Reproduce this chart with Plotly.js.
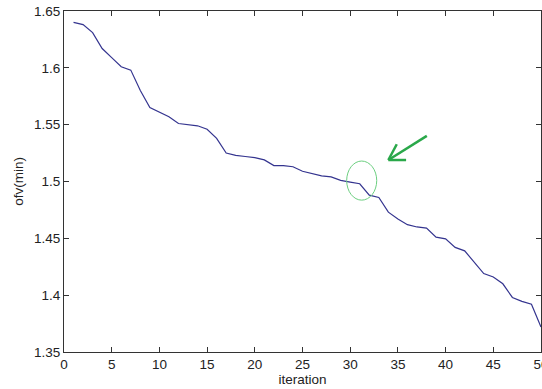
<!DOCTYPE html>
<html>
<head>
<meta charset="utf-8">
<script src="https://cdn.plot.ly/plotly-3.0.1.min.js"></script>
<style>
html,body{margin:0;padding:0;background:#fff;}
#chart{width:542px;height:389px;}
</style>
</head>
<body>
<div id="chart"></div>
<script>
const iterations = [1,2,3,4,5,6,7,8,9,10,11,12,13,14,15,16,17,18,19,20,21,22,23,24,25,26,27,28,29,30,31,32,33,34,35,36,37,38,39,40,41,42,43,44,45,46,47,48,49,50];
const ofvMin = [1.640,1.638,1.631,1.617,1.609,1.601,1.598,1.580,1.565,1.561,
                1.557,1.551,1.550,1.549,1.546,1.538,1.525,1.523,1.522,1.521,
                1.519,1.514,1.514,1.513,1.509,1.507,1.505,1.504,1.501,1.4995,
                1.498,1.488,1.486,1.473,1.467,1.462,1.460,1.459,1.451,1.4495,
                1.442,1.439,1.429,1.419,1.416,1.410,1.398,1.3945,1.392,1.372];
const xTicks = [0,5,10,15,20,25,30,35,40,45,50];
const yTicks = [1.35,1.4,1.45,1.5,1.55,1.6,1.65];
const yTickText = ['1.35','1.4','1.45','1.5','1.55','1.6','1.65'];

// highlight ellipse (data coords) and arrow
const ellipseBox = {x0: 29.63, x1: 32.78, y0: 1.4836, y1: 1.518};
const arrowTail = [38.03, 1.5401];
const arrowTip = [34.0, 1.5189];
const arrowArm1 = [34.88, 1.5328];
const arrowArm2 = [35.86, 1.5189];

const font = {family: 'Liberation Sans, Arial, sans-serif', size: 13.5, color: '#222'};

const trace = {
  x: iterations, y: ofvMin, type: 'scatter', mode: 'lines',
  line: {color: '#34348f', width: 1.2}, hoverinfo: 'skip'
};

const axisCommon = {
  showline: true, linecolor: '#333', linewidth: 1, mirror: 'ticks',
  ticks: 'inside', ticklen: 5, tickcolor: '#333', tickwidth: 1,
  showgrid: false, zeroline: false, tickfont: font, ticklabeloverflow: 'allow'
};

const layout = {
  width: 542, height: 389,
  margin: {l: 64, r: 1, t: 11, b: 37},
  paper_bgcolor: '#fff', plot_bgcolor: '#fff',
  showlegend: false,
  font: font,
  xaxis: Object.assign({}, axisCommon, {
    range: [0, 50], tickvals: xTicks,
    title: {text: 'iteration', font: font, standoff: 2}
  }),
  yaxis: Object.assign({}, axisCommon, {
    range: [1.35, 1.65], tickvals: yTicks, ticktext: yTickText,
    title: {text: 'ofv(min)', font: font, standoff: 7}
  }),
  shapes: [
    {type: 'circle', xref: 'x', yref: 'y', x0: ellipseBox.x0, x1: ellipseBox.x1,
     y0: ellipseBox.y0, y1: ellipseBox.y1, line: {color: '#6ccf80', width: 1}},
    {type: 'line', xref: 'x', yref: 'y', x0: arrowTail[0], y0: arrowTail[1], x1: arrowTip[0], y1: arrowTip[1],
     line: {color: '#2aa84a', width: 2.5}},
    {type: 'line', xref: 'x', yref: 'y', x0: arrowTip[0], y0: arrowTip[1], x1: arrowArm1[0], y1: arrowArm1[1],
     line: {color: '#2aa84a', width: 2.5}},
    {type: 'line', xref: 'x', yref: 'y', x0: arrowTip[0], y0: arrowTip[1], x1: arrowArm2[0], y1: arrowArm2[1],
     line: {color: '#2aa84a', width: 2.5}}
  ]
};

Plotly.newPlot('chart', [trace], layout, {displayModeBar: false, staticPlot: true});
</script>
</body>
</html>
